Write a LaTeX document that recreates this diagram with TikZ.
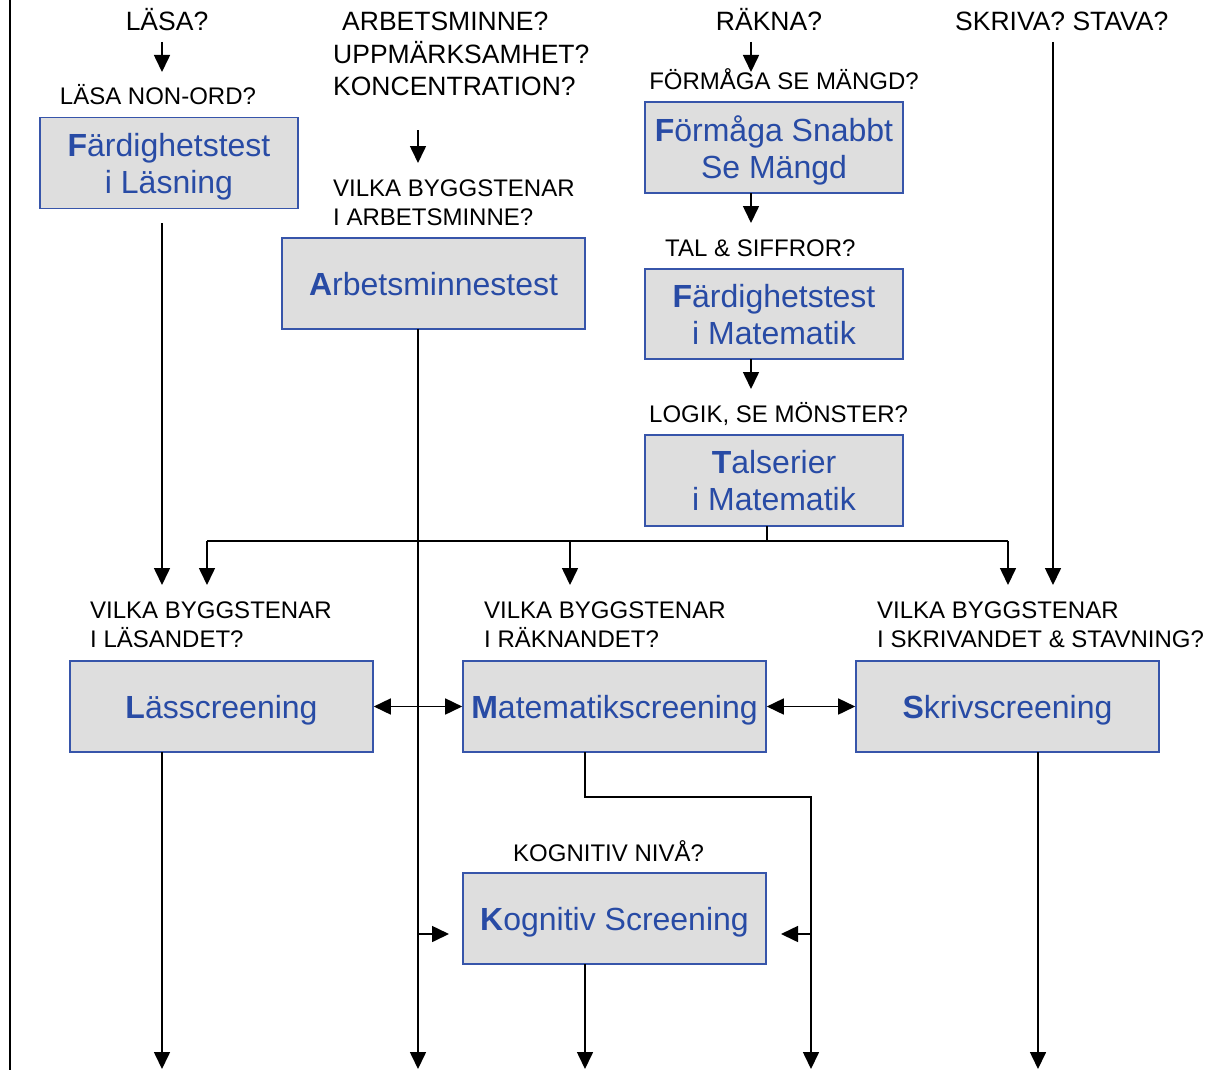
\documentclass[tikz,border=0pt]{standalone}
\usepackage{fontspec}
\setmainfont{Liberation Sans}
\usetikzlibrary{arrows.meta,calc}
\definecolor{boxfill}{RGB}{222,222,222}
\definecolor{boxline}{RGB}{55,85,170}
\definecolor{boxtext}{RGB}{40,75,165}
\tikzset{
  box/.style={draw=boxline, line width=1.6pt, fill=boxfill, text=boxtext, align=center,
    inner sep=0pt, minimum height=91pt, text depth=0pt, font=\fontsize{32}{37}\selectfont},
  wbox/.style={box, minimum width=303pt},
  nbox/.style={box, minimum width=258pt},
  lbl/.style={inner sep=0pt, font=\fontsize{24}{29}\selectfont},
  toplbl/.style={inner sep=0pt, font=\fontsize{26.5}{32}\selectfont},
  conn/.style={line width=1.6pt, draw=black},
  arr/.style={conn, -{Triangle[length=17pt,width=16pt]}},
  darr/.style={conn, {Triangle[length=17pt,width=16pt]}-{Triangle[length=17pt,width=16pt]}}
}
\begin{document}
\begin{tikzpicture}[x=1pt,y=-1pt]
\useasboundingbox (0,0) rectangle (1217,1070);
% left border line
\coordinate (bt) at (10,0);
\coordinate (bb) at (10,1070);
\draw[line width=1.4pt] (bt) -- (bb);

% boxes
\node[nbox] (fl) at (169,163) {\textbf{F}ärdighetstest\\i Läsning};
\node[wbox] (am) at (433.5,283.5) {\textbf{A}rbetsminnestest};
\node[nbox] (fs) at (774,147.5) {\textbf{F}örmåga Snabbt\\Se Mängd};
\node[nbox, minimum height=90pt] (fm) at (774,314) {\textbf{F}ärdighetstest\\i Matematik};
\node[nbox] (ts) at (774,480.5) {\textbf{T}alserier\\i Matematik};
\node[wbox] (ls) at (221.5,706.5) {\textbf{L}ässcreening};
\node[wbox] (ms) at (614.5,706.5) {\textbf{M}atematikscreening};
\node[wbox] (ss) at (1007.5,706.5) {\textbf{S}krivscreening};
\node[wbox] (ks) at (614.5,918.5) {\textbf{K}ognitiv Screening};

% labels
\node[toplbl, anchor=base] (lasa) at (167,31) {LÄSA?};
\node[lbl, anchor=base] (nonord) at (158,105) {LÄSA NON-ORD?};
\node[toplbl, anchor=base west] (arb1) at (342,31) {ARBETSMINNE?};
\node[toplbl, anchor=base west] (arb2) at (333,64) {UPPMÄRKSAMHET?};
\node[toplbl, anchor=base west] (arb3) at (333,96) {KONCENTRATION?};
\node[lbl, anchor=base west] (vam1) at (333,196) {VILKA BYGGSTENAR};
\node[lbl, anchor=base west] (vam2) at (333,225) {I ARBETSMINNE?};
\node[toplbl, anchor=base] (rakna) at (769,31) {RÄKNA?};
\node[lbl, anchor=base] (sem) at (784,90) {FÖRMÅGA SE MÄNGD?};
\node[lbl, anchor=base west] (tal) at (665,256) {TAL \& SIFFROR?};
\node[lbl, anchor=base west] (logik) at (649,422) {LOGIK, SE MÖNSTER?};
\node[toplbl, anchor=base west] (skriva) at (955,31) {SKRIVA? STAVA?};
\node[lbl, anchor=base west] (vl1) at (90,618) {VILKA BYGGSTENAR};
\node[lbl, anchor=base west] (vl2) at (90,647) {I LÄSANDET?};
\node[lbl, anchor=base west] (vr1) at (484,618) {VILKA BYGGSTENAR};
\node[lbl, anchor=base west] (vr2) at (484,647) {I RÄKNANDET?};
\node[lbl, anchor=base west] (vs1) at (877,618) {VILKA BYGGSTENAR};
\node[lbl, anchor=base west] (vs2) at (877,647) {I SKRIVANDET \& STAVNING?};
\node[lbl, anchor=base west] (kogn) at (513,861) {KOGNITIV NIVÅ?};

% coordinates
\coordinate (l1a) at (162,42);  \coordinate (l1b) at (162,72);
\coordinate (a1a) at (418,130); \coordinate (a1b) at (418,163);
\coordinate (r1a) at (751,42);  \coordinate (r1b) at (751,72);
\coordinate (r2a) at (751,193); \coordinate (r2b) at (751,223);
\coordinate (r3a) at (751,359); \coordinate (r3b) at (751,389);
\coordinate (s1a) at (1053,42); \coordinate (s1b) at (1053,585);
\coordinate (f1a) at (162,223); \coordinate (f1b) at (162,585);
\coordinate (t1a) at (767,526); \coordinate (t1b) at (767,541);
\coordinate (busL) at (207,541); \coordinate (busM) at (570,541); \coordinate (busR) at (1008,541);
\coordinate (busLb) at (207,585); \coordinate (busMb) at (570,585); \coordinate (busRb) at (1008,585);
\coordinate (amTop) at (418,329); \coordinate (amBot) at (418,1069);
\coordinate (amK) at (418,934);  \coordinate (amKt) at (449,934);
\coordinate (lsA) at (162,752);  \coordinate (lsB) at (162,1069);
\coordinate (ssA) at (1038,752); \coordinate (ssB) at (1038,1069);
\coordinate (msA) at (585,752);  \coordinate (msB) at (585,797); \coordinate (msC) at (811,797);
\coordinate (msD) at (811,1069); \coordinate (msK) at (811,934); \coordinate (msKt) at (781,934);
\coordinate (ksA) at (585,964);  \coordinate (ksB) at (585,1069);

% connectors
\draw[arr] (l1a) -- (l1b);
\draw[arr] (a1a) -- (a1b);
\draw[arr] (r1a) -- (r1b);
\draw[arr] (r2a) -- (r2b);
\draw[arr] (r3a) -- (r3b);
\draw[arr] (s1a) -- (s1b);
\draw[arr] (f1a) -- (f1b);
\draw[conn] (t1a) -- (t1b);
\draw[conn] (busL) -- (busR);
\draw[arr] (busL) -- (busLb);
\draw[arr] (busM) -- (busMb);
\draw[arr] (busR) -- (busRb);
\draw[arr] (amTop) -- (amBot);
\draw[arr] (amK) -- (amKt);
\draw[darr] (ls.east) -- (ms.west);
\draw[darr] (ms.east) -- (ss.west);
\draw[arr] (lsA) -- (lsB);
\draw[arr] (ssA) -- (ssB);
\draw[arr] (msA) -- (msB) -- (msC) -- (msD);
\draw[arr] (msK) -- (msKt);
\draw[arr] (ksA) -- (ksB);
\end{tikzpicture}
\end{document}
